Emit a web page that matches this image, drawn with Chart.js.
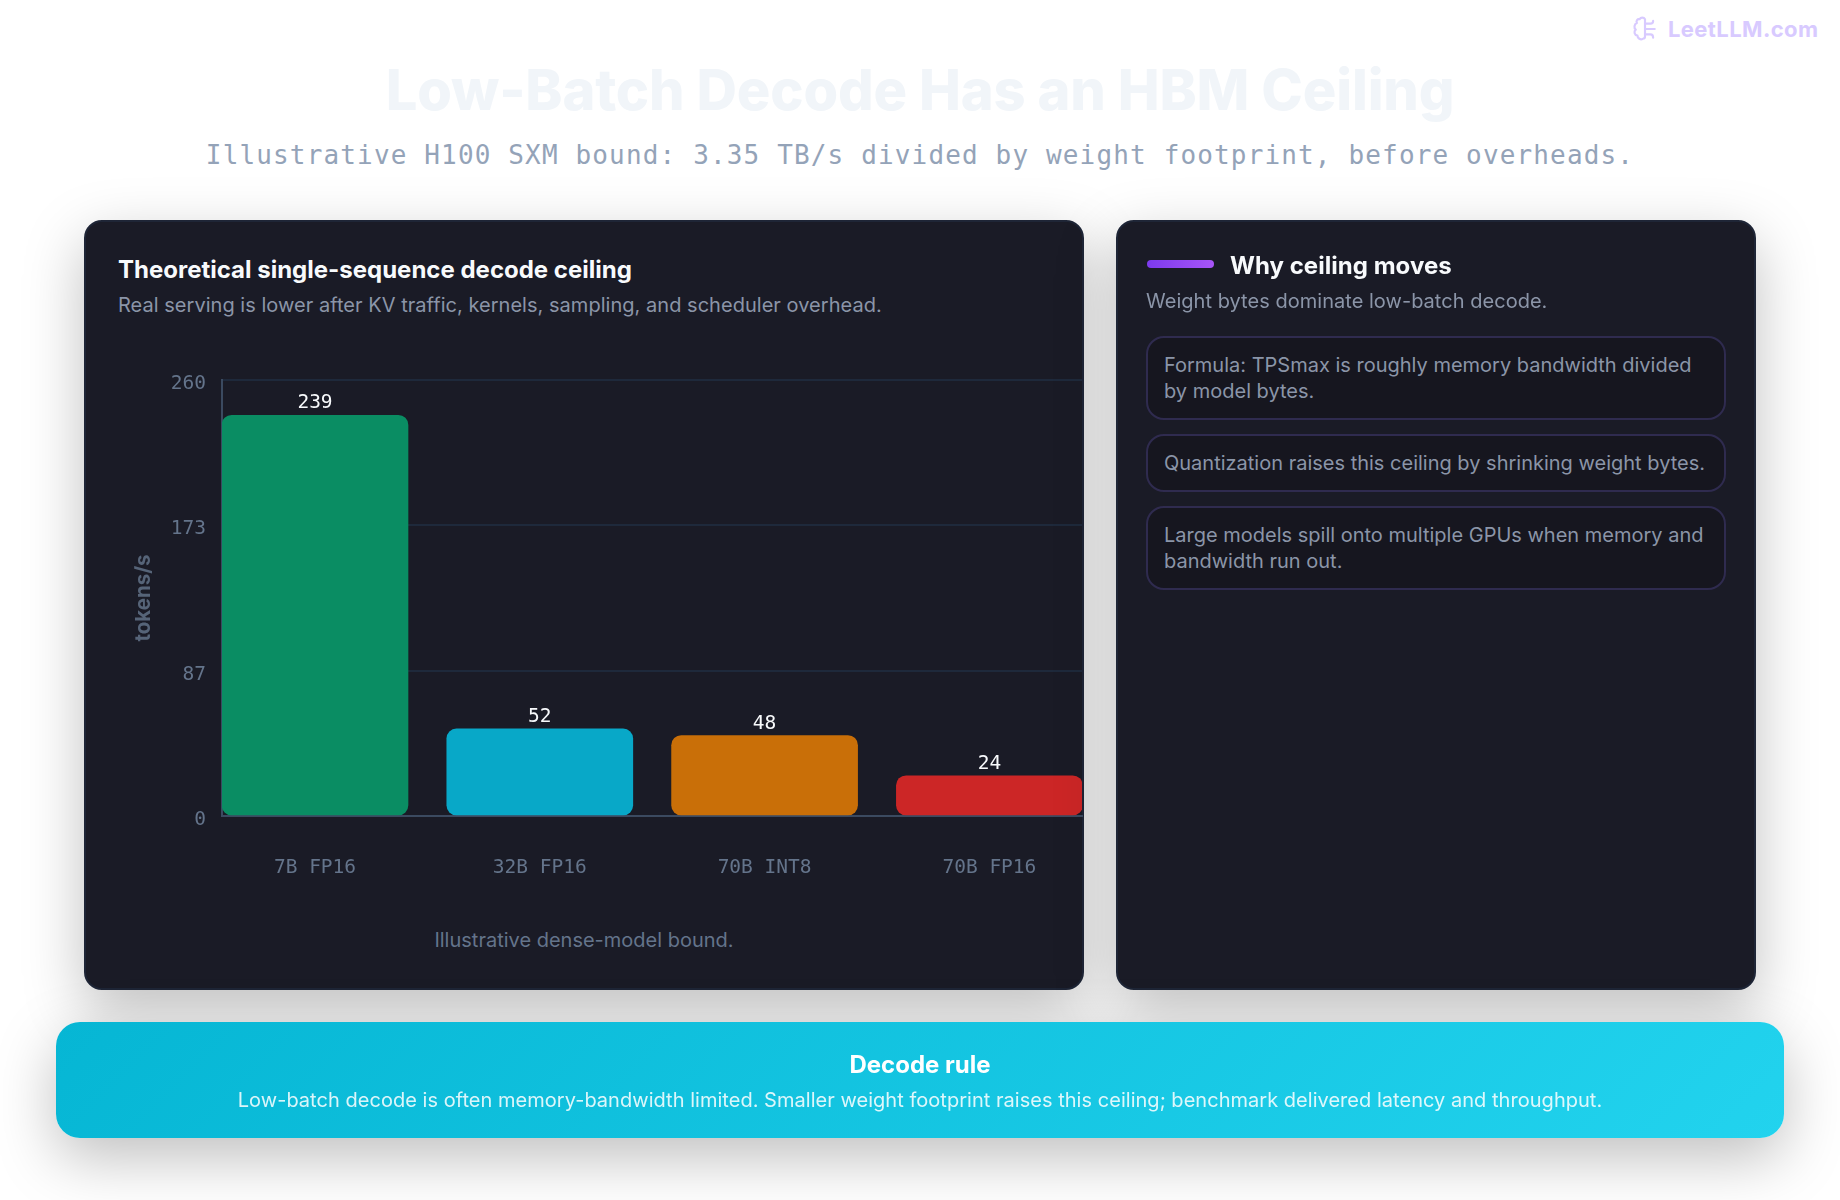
<!DOCTYPE html>
<html>
<head>
<meta charset="utf-8">
<title>Low-Batch Decode Has an HBM Ceiling</title>
<script src="https://cdn.jsdelivr.net/npm/chart.js@4"></script>
<style>
  * { box-sizing: border-box; margin: 0; padding: 0; }
  body { width: 1840px; height: 1200px; background: #fff; font-family: Inter, sans-serif; position: relative; overflow: hidden; }
  .abs { position: absolute; }
  .brand { left: 1632px; top: 16px; display: flex; align-items: center; gap: 10px; color: #d8caff; font-weight: 700; font-size: 22px; letter-spacing: 0.4px; }
  h1 { left: 0; width: 1840px; top: 54px; text-align: center; font-size: 56px; font-weight: 800; line-height: 72px; letter-spacing: -0.17px; color: #f1f5f9; }
  .lead { left: 0; width: 1840px; top: 137px; text-align: center; font-family: "DejaVu Sans Mono", monospace; font-size: 26px; line-height: 36px; letter-spacing: 1.15px; color: #94a3b8; white-space: nowrap; }
  .card { background: #1a1b26; border: 2px solid #1e2536; border-radius: 18px; box-shadow: 0 20px 60px rgba(0,0,0,.25); }
  .chart-title { left: 118px; top: 254px; font-size: 24px; font-weight: 700; line-height: 32px; color: #f8fafc; }
  .chart-sub { left: 118px; top: 291px; font-size: 20px; line-height: 28px; letter-spacing: 0.03px; color: #8b95a8; }
  .note { left: 84px; width: 1000px; top: 926px; text-align: center; font-size: 20px; line-height: 28px; color: #64748b; }
  #chartBox { left: 100px; top: 370px; width: 984px; height: 530px; }
  .pill { left: 1147px; top: 260px; width: 67px; height: 8px; border-radius: 4px; background: linear-gradient(90deg, #7c3aed, #a855f7); }
  .side-title { left: 1230px; top: 250px; font-size: 24px; font-weight: 700; line-height: 32px; letter-spacing: 0.03px; color: #f8fafc; }
  .side-sub { left: 1146px; top: 287px; font-size: 20px; line-height: 28px; letter-spacing: 0.03px; color: #8b95a8; }
  .item { left: 1146px; width: 580px; border: 2px solid #2f2b4f; border-radius: 18px; background: #16161f; padding: 0 16px; font-size: 20px; line-height: 26px; color: #8b95a8; display: flex; align-items: center; }
  .banner { left: 56px; top: 1022px; width: 1728px; height: 116px; border-radius: 24px; background: linear-gradient(135deg, #06b6d4, #22d3ee); box-shadow: 0 20px 60px rgba(0,0,0,.25); text-align: center; color: #fff; }
  .banner b { display: block; margin-top: 27px; font-size: 24px; line-height: 32px; font-weight: 700; }
  .banner span { display: block; margin-top: 5px; font-size: 20px; line-height: 28px; letter-spacing: 0.03px; color: rgba(255,255,255,.85); }
</style>
</head>
<body>
<div class="abs brand">
  <svg width="26" height="26" viewBox="0 0 24 24" fill="none" stroke="#d8caff" stroke-width="2" stroke-linecap="round" stroke-linejoin="round">
    <path d="M12 3C11 1 8 1 7 3C5 2.5 3.5 4.5 4.5 6.5C2 7.5 1.5 11 3.5 12.5C1.5 14 2 17.5 5 18C5 20.5 8 22.5 10 21C11.5 21 12 20 12 19V3z"/>
    <path d="M12 7H17C18.5 7 19.5 6 19.5 4.5M12 12H21M12 17H17C18.5 17 19.5 18 19.5 20"/>
  </svg>
  <span>LeetLLM.com</span>
</div>
<h1 class="abs">Low-Batch Decode Has an HBM Ceiling</h1>
<div class="abs lead">Illustrative H100 SXM bound: 3.35 TB/s divided by weight footprint, before overheads.</div>

<div class="abs card" style="left:84px;top:220px;width:1000px;height:770px"></div>
<div class="abs chart-title">Theoretical single-sequence decode ceiling</div>
<div class="abs chart-sub">Real serving is lower after KV traffic, kernels, sampling, and scheduler overhead.</div>
<div class="abs" id="chartBox"><canvas id="ceilingChart"></canvas></div>
<div class="abs note">Illustrative dense-model bound.</div>

<div class="abs card" style="left:1116px;top:220px;width:640px;height:770px"></div>
<div class="abs pill"></div>
<div class="abs side-title">Why ceiling moves</div>
<div class="abs side-sub">Weight bytes dominate low-batch decode.</div>
<div class="abs item" style="top:336px;height:84px">Formula: TPSmax is roughly memory bandwidth divided by model bytes.</div>
<div class="abs item" style="top:434px;height:58px">Quantization raises this ceiling by shrinking weight bytes.</div>
<div class="abs item" style="top:506px;height:84px">Large models spill onto multiple GPUs when memory and bandwidth run out.</div>

<div class="abs banner">
  <b>Decode rule</b>
  <span>Low-batch decode is often memory-bandwidth limited. Smaller weight footprint raises this ceiling; benchmark delivered latency and throughput.</span>
</div>

<script>
const categories = ['7B FP16', '32B FP16', '70B INT8', '70B FP16'];
const ceilingValues = [239, 52, 48, 24];
const barColors = ['#0a8d63', '#08a8c8', '#c96f08', '#cc2626'];
// axis runs in thirds of 260, labels are rounded when printed
const yTickValues = [0, 86.67, 173.33, 260];

const monoFont = '"DejaVu Sans Mono", monospace';

// value above each bar, plus the y tick labels (they sit a little below their gridlines)
const chartLabels = {
    id: 'chartLabels',
    afterDatasetsDraw(chart) {
        const ctx = chart.ctx;
        const yAxis = chart.scales.y;
        ctx.save();
        ctx.font = '19.5px ' + monoFont;
        ctx.textBaseline = 'alphabetic';

        ctx.fillStyle = '#f8fafc';
        ctx.textAlign = 'center';
        chart.getDatasetMeta(0).data.forEach((bar, i) => {
            ctx.fillText(ceilingValues[i], bar.x, bar.y - 7);
        });

        ctx.fillStyle = '#64748b';
        ctx.textAlign = 'right';
        yTickValues.forEach(v => {
            ctx.fillText(Math.round(v), yAxis.right - 16, yAxis.getPixelForValue(v) + 9);
        });
        ctx.restore();
    }
};

const ctx = document.getElementById('ceilingChart').getContext('2d');
new Chart(ctx, {
    type: 'bar',
    data: {
        datasets: [{
            data: ceilingValues.map((v, i) => ({ x: i, y: v })),
            backgroundColor: barColors,
            borderRadius: 10,
            borderSkipped: false,
            barThickness: 186
        }]
    },
    options: {
        responsive: true,
        maintainAspectRatio: false,
        animation: false,
        layout: { padding: { top: 10, right: 2 } },
        plugins: { legend: { display: false }, tooltip: { enabled: false } },
        scales: {
            x: {
                type: 'linear',
                offset: false,
                // the outer bars sit flush against the plot edges
                min: -0.4137,
                max: 3.412,
                afterBuildTicks: axis => { axis.ticks = categories.map((_, i) => ({ value: i })); },
                afterFit: axis => { axis.height = 84; },
                grid: { display: false, offset: false },
                border: { display: true, color: '#3b4a60', width: 2 },
                ticks: {
                    autoSkip: false,
                    maxRotation: 0,
                    padding: 32,
                    color: '#64748b',
                    font: { family: monoFont, size: 19.5 },
                    callback: value => categories[value]
                }
            },
            y: {
                min: 0,
                max: 260,
                afterBuildTicks: axis => { axis.ticks = yTickValues.map(v => ({ value: v })); },
                afterFit: axis => { axis.width = 122; },
                grid: { color: '#1e293b', lineWidth: 2, drawTicks: false },
                border: { display: true, color: '#3b4a60', width: 2 },
                title: {
                    display: true,
                    text: 'tokens/s',
                    color: '#566478',
                    font: { family: 'Inter', size: 20.5, weight: '700' },
                    padding: { top: 32, bottom: 0 }
                },
                ticks: { display: false }
            }
        }
    },
    plugins: [chartLabels]
});
</script>
</body>
</html>
